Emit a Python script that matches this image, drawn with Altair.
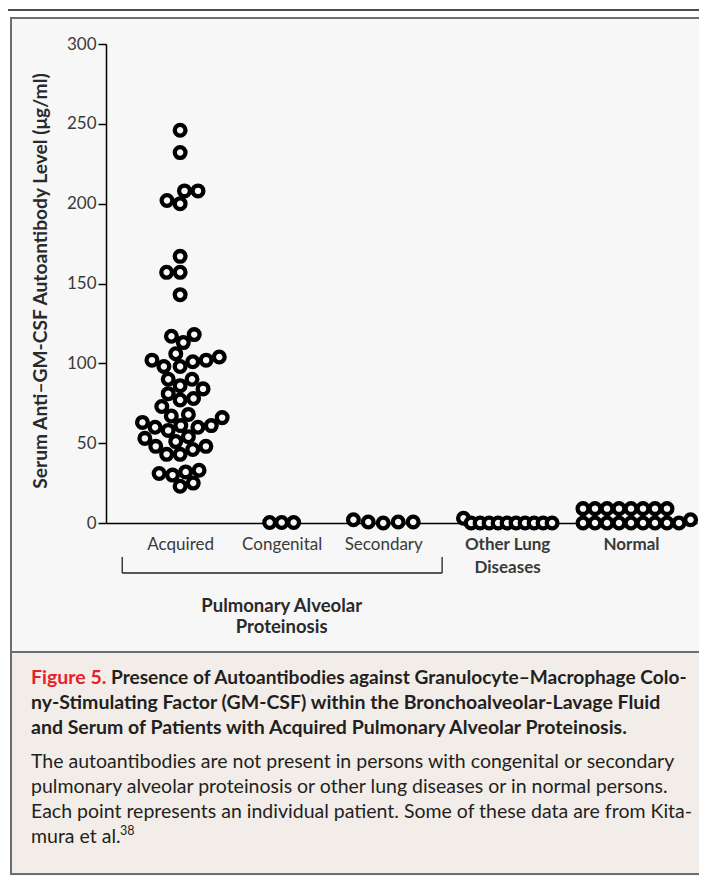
import altair as alt
import pandas as pd

# ------------------------------------------------------------------ data
groups = ["Acquired", "Congenital", "Secondary", "Other Lung Diseases", "Normal"]
acquired = [246, 232, 208, 208, 202, 200, 167, 157, 157, 143,
            117, 118, 113, 102, 106, 98, 98, 101, 102, 104,
            90, 86, 81, 84, 90, 73, 78, 77, 63, 66,
            60, 61, 51, 54, 46, 43, 30, 31, 23, 61,
            68, 67, 58, 60, 53, 48, 48, 43, 32, 33, 25]
congenital = [0.3, 0.3, 0.3]
secondary = [0.6, 0.6, 0.0, 2.0, 0.6]
other_lung = [0, 0, 3, 0, 0, 0, 0, 0, 0, 0, 0]
normal = [9, 9, 9, 9, 9, 9, 9, 9, 0, 0, 0, 0, 0, 0, 2, 0, 0, 0]
series = [acquired, congenital, secondary, other_lung, normal]

y_ticks = [0, 50, 100, 150, 200, 250, 300]
y_title = "Serum Anti\u2013GM-CSF Autoantibody Level (\u03bcg/ml)"
split_labels = {"Other Lung Diseases": ["Other Lung", "Diseases"]}
bold_groups = ["Other Lung Diseases", "Normal"]
bracket_label = "Pulmonary Alveolar\nProteinosis"
caption_fig = "Figure 5."
caption_title = [
    "Presence of Autoantibodies against Granulocyte\u2013Macrophage Colo-",
    "ny-Stimulating Factor (GM-CSF) within the Bronchoalveolar-Lavage Fluid",
    "and Serum of Patients with Acquired Pulmonary Alveolar Proteinosis.",
]
caption_body = [
    "The autoantibodies are not present in persons with congenital or secondary",
    "pulmonary alveolar proteinosis or other lung diseases or in normal persons.",
    "Each point represents an individual patient. Some of these data are from Kita-",
    "mura et al.",
]
caption_ref = "38"

# ------------------------------------------------------------------ layout
W, H = 591, 479
PAD_L, PAD_T = 98, 36
TOTAL_W, TOTAL_H = 691, 868
FONT = "Lato"
GAP = 1.22
group_pos = [0, 1, 2, 2 + GAP, 2 + 2 * GAP]
swarm_gap = [13.5, 12.0, 15.0, 9.0, 12.0]   # min centre distance per group (px)
x_dom = [-0.73, 5.09]
UX = W / (x_dom[1] - x_dom[0])   # px per x unit
PY = H / 300.0                    # px per y unit


def swarm(vals, d):
    order = sorted(range(len(vals)), key=lambda i: vals[i])
    placed, offs = [], [0.0] * len(vals)
    for i in order:
        y = vals[i] * PY
        cands = [0.0]
        for px_, py_ in placed:
            dy = abs(py_ - y)
            if dy < d:
                dx = (d * d - dy * dy) ** 0.5
                cands += [px_ - dx, px_ + dx]
        ok = [c for c in cands
              if all((c - a) ** 2 + (y - b) ** 2 >= d * d - 1e-6 for a, b in placed)]
        bias = sum(p[0] for p in placed)
        best = min(ok, key=lambda c: (round(abs(c), 6), c if bias > 0 else -c))
        placed.append((best, y))
        offs[i] = best
    return offs


rows = []
for gi, (g, vals) in enumerate(zip(groups, series)):
    for v, o in zip(vals, swarm(vals, swarm_gap[gi])):
        rows.append({"group": g, "pos": group_pos[gi] + o / UX, "value": v})
df = pd.DataFrame(rows).sort_values("pos").reset_index(drop=True)


def js(v):
    if isinstance(v, list):
        return "[" + ",".join("'" + s + "'" for s in v) + "]"
    return "'" + v + "'"


label_expr = " : ".join(
    f"abs(datum.value - {p}) < 0.01 ? {js(split_labels.get(g, g))}"
    for p, g in zip(group_pos, groups)
) + " : ''"
bold_min = min(group_pos[groups.index(g)] for g in bold_groups) - 0.01

xscale = alt.Scale(domain=x_dom, nice=False, zero=False)
yscale = alt.Scale(domain=[0, 300], nice=False)

x_axis = alt.Axis(
    values=group_pos, labelExpr=label_expr, title=None, ticks=False, grid=False,
    domainColor="#000", domainWidth=1.5, labelFont=FONT, labelFontSize=17,
    labelColor="#3a3a3a", labelPadding=13, labelLineHeight=23, labelAlign="center",
    labelBaseline="top", labelOverlap=False, labelFlush=False, labelBound=False,
    labelFontWeight=alt.ExprRef(f"datum.value > {bold_min} ? 'bold' : 'normal'"),
)
y_axis = alt.Axis(
    values=y_ticks, title=y_title, grid=False, domainColor="#000", domainWidth=1.5,
    tickColor="#000", tickWidth=1.5, tickSize=8, labelFont=FONT, labelFontSize=17,
    labelColor="#3a3a3a", labelPadding=2, titleFont=FONT, titleFontSize=19.2,
    titleFontWeight="bold", titleColor="#2a2a2a", titleX=-66, titleY=H / 2 - 3,
    titleAngle=270, titleAlign="center", titleBaseline="middle",
)

points = alt.Chart(df).mark_point(
    shape="circle", filled=True, fill="#f7f7f7", stroke="#000",
    strokeWidth=4.3, size=115, opacity=1,
).encode(
    x=alt.X("pos:Q", scale=xscale, axis=x_axis),
    y=alt.Y("value:Q", scale=yscale, axis=y_axis),
)

# bracket under the PAP groups
br = pd.DataFrame({"pos": [group_pos[0] - 0.57], "b": [group_pos[2] + 0.58]})
br_h = alt.Chart(br).mark_rule(color="#222", strokeWidth=1.3).encode(
    x=alt.X("pos:Q", scale=xscale, axis=x_axis), x2="b:Q", y=alt.value(H + 50))
br_l = alt.Chart(br).mark_rule(color="#222", strokeWidth=1.3).encode(
    x=alt.X("pos:Q", scale=xscale, axis=x_axis), y=alt.value(H + 34), y2=alt.value(H + 50))
br_r = alt.Chart(br).mark_rule(color="#222", strokeWidth=1.3).encode(
    x=alt.X("b:Q", scale=xscale, axis=x_axis), y=alt.value(H + 34), y2=alt.value(H + 50))
br_t = alt.Chart(pd.DataFrame({"pos": [group_pos[1]]})).mark_text(
    text=bracket_label, lineBreak="\n", lineHeight=21, font=FONT, fontSize=18.5,
    fontWeight="bold", color="#2a2a2a", align="center", baseline="alphabetic",
).encode(x=alt.X("pos:Q", scale=xscale, axis=x_axis), y=alt.value(H + 89))

# frame / panels (pixel positions relative to the plot origin)
one = pd.DataFrame({"k": [0]})
L, R, T = -PAD_L, TOTAL_W - PAD_L, -PAD_T


def box(x1, x2, y1, y2, fill):
    return alt.Chart(one).mark_rect(fill=fill).encode(
        x=alt.value(x1), x2=alt.value(x2), y=alt.value(y1), y2=alt.value(y2))


def hrule(x1, x2, y, color, w):
    return alt.Chart(one).mark_rule(color=color, strokeWidth=w).encode(
        x=alt.value(x1), x2=alt.value(x2), y=alt.value(y))


def vrule(x, y1, y2, color, w):
    return alt.Chart(one).mark_rule(color=color, strokeWidth=w).encode(
        x=alt.value(x), y=alt.value(y1), y2=alt.value(y2))


CAP_TOP, BOT = 608, TOTAL_H - PAD_T - 2
decor = [
    box(L, R, T, -26, "#ffffff"),
    box(L, -96, T, BOT + 2, "#ffffff"),
    box(-96, R, CAP_TOP, BOT, "#f2ede8"),
    hrule(L, R, -34, "#111", 1.6),
    hrule(-96, R, -26, "#6d6d6d", 2),
    hrule(-96, R, CAP_TOP, "#6d6d6d", 2),
    hrule(-96, R, BOT, "#6d6d6d", 2),
    vrule(-95, -27, BOT + 1, "#6d6d6d", 2),
]

# caption text
TX = -75
CAP_SIZE = 19.5


def txt(s, x, y, size=CAP_SIZE, weight="normal", color="#231f20"):
    return alt.Chart(one).mark_text(
        text=s, font=FONT, fontSize=size, fontWeight=weight, color=color,
        align="left", baseline="alphabetic",
    ).encode(x=alt.value(x), y=alt.value(y))


texts = [txt(caption_fig, TX, 640, weight="bold", color="#e8202a")]
texts.append(txt(caption_title[0], 5, 640, size=19.1, weight="bold"))
for k, s in enumerate(caption_title[1:]):
    texts.append(txt(s, TX, 665 + 25 * k, weight="bold"))
for k, s in enumerate(caption_body):
    texts.append(txt(s, TX, 724 + 25 * k))
texts.append(txt(caption_ref, 14, 791, size=12.5))

chart = alt.layer(
    *decor, points, br_h, br_l, br_r, br_t, *texts
).properties(
    width=W, height=H, background="#f7f7f7",
    autosize=alt.AutoSizeParams(type="none"),
    padding={"left": PAD_L, "top": PAD_T,
             "right": TOTAL_W - PAD_L - W, "bottom": TOTAL_H - PAD_T - H},
).configure_view(stroke=None)

chart.save("out.html", embed_options={"renderer": "svg", "actions": False})
